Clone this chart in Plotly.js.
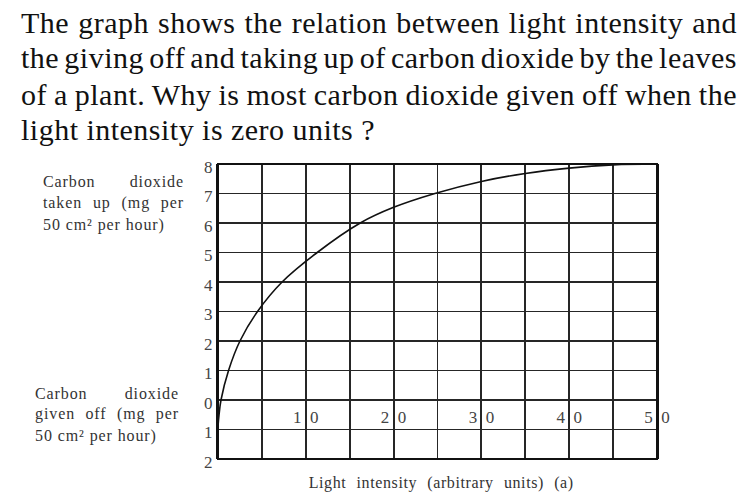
<!DOCTYPE html>
<html>
<head>
<meta charset="utf-8">
<script src="https://cdn.plot.ly/plotly-3.0.1.min.js"></script>
<style>
  html, body { margin: 0; padding: 0; background: #ffffff; }
  #chart { width: 754px; height: 493px; }
</style>
</head>
<body>
<div id="chart"></div>
<script>
// ---- data ----
const lightIntensity = [0, 0.12, 0.34, 1.2, 2.5, 4.5, 7.3, 11.3, 16.2, 20, 24.7, 30, 35, 40, 45, 50];
const co2Exchange    = [-0.9, -0.5, 0, 1, 2, 3, 4, 5, 6, 6.53, 7, 7.41, 7.68, 7.86, 7.97, 8.0];

const xTickVals = [0, 5, 10, 15, 20, 25, 30, 35, 40, 45, 50];
const xTickText = ['', '', '1\u20020', '', '2\u20020', '', '3\u20020', '', '4\u20020', '', '5\u20020'];
const yTickVals = [-2, -1, 0, 1, 2, 3, 4, 5, 6, 7, 8];
const yTickText = ['2', '1', '0', '1', '2', '3', '4', '5', '6', '7', '8'];

const questionLines = [
  'The graph shows the relation between light intensity and',
  'the giving off and taking up of carbon dioxide by the leaves',
  'of a plant. Why is most carbon dioxide given off when the',
  'light intensity is zero units ?'
];
const upperLabelLines = ['Carbon dioxide', 'taken up (mg per', '50 cm\u00b2 per hour)'];
const lowerLabelLines = ['Carbon dioxide', 'given off (mg per', '50 cm\u00b2 per hour)'];
const xTitle = 'Light intensity (arbitrary units) (a)';

// ---- layout helpers ----
const W = 754, H = 493;
const M = { l: 218, r: 97, t: 164, b: 34 };
const SERIF = 'Liberation Serif, Times New Roman, serif';

const annotations = [];
const fitSpec = [];   // [targetWidth or 0, letterSpacing]

function addText(txt, leftPx, centerYPx, size, color, target, letter) {
  annotations.push({
    text: txt, xref: 'paper', yref: 'paper', x: 0, y: 1,
    xanchor: 'left', yanchor: 'middle', align: 'left',
    xshift: leftPx - M.l, yshift: M.t - centerYPx,
    showarrow: false, font: { family: SERIF, size: size, color: color }
  });
  fitSpec.push([target, letter]);
}

const qCenters = [22, 57, 94, 129];
questionLines.forEach((t, i) => addText(t, 19, qCenters[i], 30, '#111111', i < 3 ? 716 : 354, 0.5));

const upC = [181, 203, 225];
upperLabelLines.forEach((t, i) => addText(t, 41, upC[i], 16, '#333333', i < 2 ? 141 : 0, 0.9));
const loC = [393, 414, 436];
lowerLabelLines.forEach((t, i) => addText(t, 33, loC[i], 16, '#333333', i < 2 ? 144 : 0, 0.9));

annotations.push({
  text: xTitle, xref: 'paper', yref: 'paper', x: 0.5, y: 0,
  xanchor: 'center', yanchor: 'middle', xshift: 3, yshift: (H - M.b) - 483,
  showarrow: false, font: { family: SERIF, size: 16, color: '#333333' }
});
fitSpec.push([265, 0.6]);

const gridColor = '#262626';

const trace = {
  x: lightIntensity, y: co2Exchange, type: 'scatter', mode: 'lines',
  line: { color: '#111111', width: 1.6, shape: 'spline', smoothing: 1 },
  hoverinfo: 'skip', showlegend: false
};

const layout = {
  width: W, height: H, margin: M,
  paper_bgcolor: '#ffffff', plot_bgcolor: '#ffffff',
  showlegend: false,
  xaxis: {
    range: [0, 50], anchor: 'free', position: 0.183,
    tickmode: 'array', tickvals: xTickVals, ticktext: xTickText,
    showgrid: true, gridcolor: gridColor, gridwidth: 1.9,
    showline: false, ticks: '', zeroline: false, fixedrange: true,
    tickfont: { family: SERIF, size: 17, color: '#444444' }
  },
  yaxis: {
    range: [-2, 8], tickmode: 'array', tickvals: yTickVals, ticktext: yTickText,
    showgrid: true, gridcolor: gridColor, gridwidth: 1.9,
    showline: true, linecolor: '#111111', linewidth: 2, mirror: true,
    zeroline: false, ticks: '', ticklabelshift: 3,
    tickfont: { family: SERIF, size: 17, color: '#444444' }, fixedrange: true
  },
  shapes: [{
    type: 'rect', xref: 'paper', yref: 'paper', x0: 0, x1: 1, y0: 0, y1: 1,
    line: { color: '#111111', width: 2 }, fillcolor: 'rgba(0,0,0,0)', layer: 'above'
  }],
  annotations: annotations
};

function fitText(el, target, letter) {
  if (letter) el.style.letterSpacing = letter + 'px';
  const n = (el.textContent.match(/ /g) || []).length;
  if (!target || !n) return;
  const w0 = el.getBBox().width;
  let ws = (target - w0) / n;
  el.style.wordSpacing = ws + 'px';
  const w1 = el.getBBox().width;
  if (Math.abs(w1 - w0) > 0.5) {
    ws += (target - w1) / n;
    el.style.wordSpacing = ws + 'px';
  }
}

Plotly.newPlot('chart', [trace], layout, { staticPlot: true }).then(gd => {
  gd.querySelectorAll('g.annotation').forEach(g => {
    const idx = +g.getAttribute('data-index');
    const el = g.querySelector('text.annotation-text');
    const spec = fitSpec[idx];
    if (el && spec) fitText(el, spec[0], spec[1]);
  });
});
</script>
</body>
</html>
